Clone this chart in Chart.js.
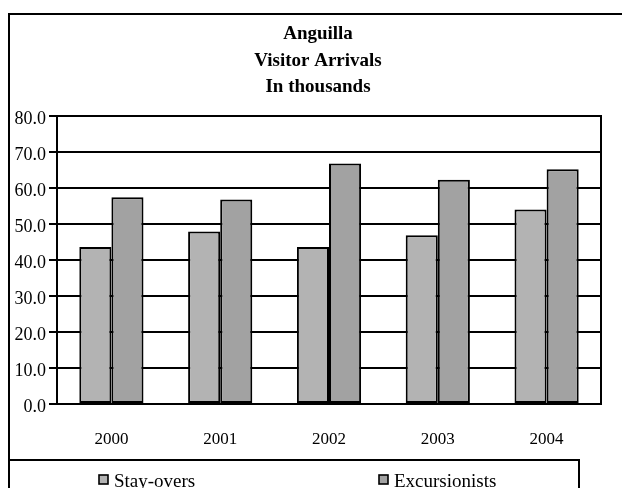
<!DOCTYPE html>
<html>
<head>
<meta charset="utf-8">
<script src="https://cdn.jsdelivr.net/npm/chart.js@4/dist/chart.umd.min.js"></script>
<style>
  html, body { margin: 0; padding: 0; background: #ffffff; }
  #wrap { width: 622px; height: 488px; }
</style>
</head>
<body>
<div id="wrap"><canvas id="chart" width="622" height="488"></canvas></div>
<script>
// Anguilla visitor arrivals, thousands
const years = ['2000', '2001', '2002', '2003', '2004'];
const stayOvers = [43.6, 47.9, 43.6, 46.9, 54.0];
const excursionists = [57.4, 56.8, 66.8, 62.3, 65.2];
const yTicks = [0, 10, 20, 30, 40, 50, 60, 70, 80];
const titleLines = ['Anguilla', 'Visitor Arrivals', 'In thousands'];

const SERIF = '"Liberation Serif", "Times New Roman", serif';

// Heading, frames around the chart / plot / legend, and the legend entries
const framePlugin = {
  id: 'frames',
  afterDraw(chart) {
    const ctx = chart.ctx;
    const a = chart.chartArea;
    ctx.save();

    // heading, three centred bold lines
    ctx.fillStyle = '#000';
    ctx.font = 'bold 19px ' + SERIF;
    ctx.textAlign = 'center';
    ctx.textBaseline = 'alphabetic';
    titleLines.forEach((t, i) => ctx.fillText(t, 318, 39 + i * 26.5));

    ctx.strokeStyle = '#000';
    ctx.lineWidth = 2;
    // outer border
    ctx.strokeRect(9, 14, 660, 520);
    // plot box
    ctx.strokeRect(a.left, a.top, a.right - a.left, a.bottom - a.top);
    // legend box
    ctx.strokeRect(9, 460, 570, 80);

    // legend entries
    const ds = chart.data.datasets;
    const xs = [98, 378];
    ctx.font = '19px ' + SERIF;
    ctx.textAlign = 'left';
    ctx.textBaseline = 'alphabetic';
    ds.forEach((d, i) => {
      const x = xs[i];
      ctx.fillStyle = d.backgroundColor;
      ctx.fillRect(x + 1, 475, 9, 9);
      ctx.lineWidth = 1.6;
      ctx.strokeRect(x + 1, 475, 9, 9);
      ctx.fillStyle = '#000';
      ctx.fillText(d.label, x + 16, 487);
    });
    ctx.restore();
  }
};

new Chart(document.getElementById('chart'), {
  type: 'bar',
  data: {
    labels: years,
    datasets: [
      {
        label: 'Stay-overs',
        data: stayOvers,
        backgroundColor: '#b3b3b3',
        borderColor: '#000',
        borderWidth: 2,
        borderSkipped: false,
        categoryPercentage: 0.59,
        barPercentage: 1.0
      },
      {
        label: 'Excursionists',
        data: excursionists,
        backgroundColor: '#a2a2a2',
        borderColor: '#000',
        borderWidth: 2,
        borderSkipped: false,
        categoryPercentage: 0.59,
        barPercentage: 1.0
      }
    ]
  },
  options: {
    responsive: false,
    animation: false,
    devicePixelRatio: 1,
    layout: { padding: { left: 8, right: 21, top: 116, bottom: 29 } },
    plugins: {
      legend: { display: false },
      tooltip: { enabled: false },
      title: { display: false }
    },
    scales: {
      x: {
        grid: { display: false, drawTicks: false },
        border: { display: true, color: '#000', width: 2 },
        ticks: {
          color: '#000',
          font: { family: SERIF, size: 17 },
          padding: 25
        },
        afterFit(scale) { scale.height = 55; }
      },
      y: {
        min: 0,
        max: 80,
        afterBuildTicks(scale) {
          scale.ticks = yTicks.map(v => ({ value: v }));
        },
        grid: {
          color: '#000',
          lineWidth: 2,
          drawTicks: true,
          tickLength: 8,
          tickColor: '#000'
        },
        border: { display: true, color: '#000', width: 2 },
        ticks: {
          color: '#000',
          font: { family: SERIF, size: 18 },
          padding: 3,
          labelOffset: 3,
          callback: v => Number(v).toFixed(1)
        },
        afterFit(scale) { scale.width = 49; }
      }
    }
  },
  plugins: [framePlugin]
});
</script>
</body>
</html>
